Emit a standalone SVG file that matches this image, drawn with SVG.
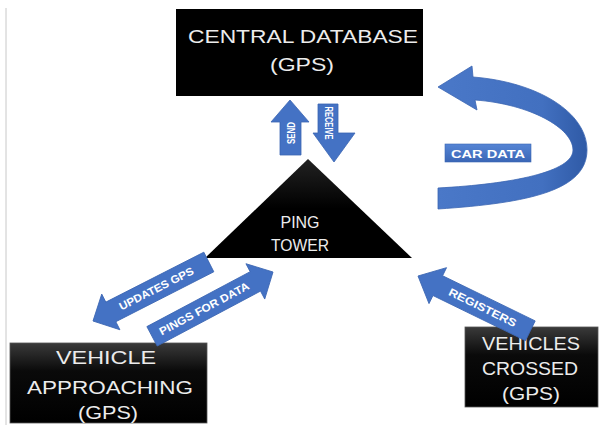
<svg xmlns="http://www.w3.org/2000/svg" width="603" height="425" viewBox="0 0 603 425">
<defs>
<linearGradient id="boxg" x1="0" y1="0" x2="0" y2="1">
<stop offset="0" stop-color="#3a3a3a"/><stop offset="0.35" stop-color="#0a0a0a"/><stop offset="1" stop-color="#000"/>
</linearGradient>
<linearGradient id="triG" x1="0" y1="0" x2="0" y2="1">
<stop offset="0" stop-color="#222"/><stop offset="0.5" stop-color="#000"/><stop offset="1" stop-color="#000"/>
</linearGradient>
<linearGradient id="curveG" x1="0" y1="0" x2="1" y2="0">
<stop offset="0" stop-color="#4a78c8"/><stop offset="0.7" stop-color="#4270c0"/><stop offset="1" stop-color="#2f5aa6"/>
</linearGradient>
<linearGradient id="labG" x1="0" y1="0" x2="0" y2="1">
<stop offset="0" stop-color="#5585d5"/><stop offset="1" stop-color="#3a66b6"/>
</linearGradient>
</defs>
<style>
.box{fill:#000}
.vbox{fill:url(#boxg);stroke:#555;stroke-width:0.8}
.nt{font-family:"Liberation Sans",Arial,sans-serif;fill:#ececec;text-anchor:middle}
.arr{fill:#4472c4;stroke:#3b66b3;stroke-width:0.8}
.at{font-family:"Liberation Sans",Arial,sans-serif;font-weight:bold;fill:#fff;text-anchor:middle}
</style>
<rect width="603" height="425" fill="#fff"/>
<line x1="6" y1="8" x2="6" y2="425" stroke="#c8c8c8" stroke-width="1"/>

<g id="central-database">
<rect class="box" x="176" y="9" width="247" height="87"/>
<text class="nt" x="303" y="43" font-size="19" textLength="230" lengthAdjust="spacingAndGlyphs">CENTRAL DATABASE</text>
<text class="nt" x="302" y="71" font-size="19" textLength="64" lengthAdjust="spacingAndGlyphs">(GPS)</text>
</g>

<g id="ping-tower">
<polygon points="308,159 412,258 205,258" fill="url(#triG)"/>
<text class="nt" x="300" y="228" font-size="16.5" textLength="39" lengthAdjust="spacingAndGlyphs">PING</text>
<text class="nt" x="300" y="251" font-size="16.5" textLength="58" lengthAdjust="spacingAndGlyphs">TOWER</text>
</g>

<g id="vehicle-approaching">
<rect class="vbox" x="10" y="343" width="197" height="80"/>
<text class="nt" x="106" y="364" font-size="19" textLength="100" lengthAdjust="spacingAndGlyphs">VEHICLE</text>
<text class="nt" x="110" y="394" font-size="19" textLength="166" lengthAdjust="spacingAndGlyphs">APPROACHING</text>
<text class="nt" x="108" y="419" font-size="19" textLength="60" lengthAdjust="spacingAndGlyphs">(GPS)</text>
</g>

<g id="vehicles-crossed">
<rect class="vbox" x="465" y="327" width="133" height="80"/>
<text class="nt" x="531" y="350" font-size="19" textLength="98" lengthAdjust="spacingAndGlyphs">VEHICLES</text>
<text class="nt" x="530" y="375" font-size="19" textLength="96" lengthAdjust="spacingAndGlyphs">CROSSED</text>
<text class="nt" x="531" y="400" font-size="19" textLength="58" lengthAdjust="spacingAndGlyphs">(GPS)</text>
</g>

<g id="connectors">
<g id="send">
<polygon class="arr" points="280,155 280,122 271,122 290,100 309,122 301,122 301,155"/>
<text class="at" transform="translate(294.5,133) rotate(-90)" font-size="10" textLength="22" lengthAdjust="spacingAndGlyphs">SEND</text>
</g>
<g id="receive">
<polygon class="arr" points="318,104 338,104 338,133 355,133 334,162 313,133 318,133"/>
<text class="at" transform="translate(324.5,123) rotate(90)" font-size="10" textLength="33" lengthAdjust="spacingAndGlyphs">RECEIVE</text>
</g>
<g id="car-data">
<path d="M438,87 L472,66 L473,77 C537,82 587,112 587,150 C587,190 530,203 438,209 L438,188 C512,184 573,172 573,150 C573,128 530,104 475,100 L477,110 Z" fill="url(#curveG)" stroke="#3b66b3" stroke-width="0.8"/>
<rect x="445" y="144" width="86" height="18" fill="url(#labG)" stroke="#3b66b3" stroke-width="0.6"/>
<text class="at" x="488" y="157.5" font-size="11.5" textLength="74" lengthAdjust="spacingAndGlyphs">CAR DATA</text>
</g>
<g id="updates-gps">
<polygon class="arr" transform="translate(93,321) rotate(153)" points="-130,-11 -20,-11 -20,-20 0,0 -20,20 -20,11 -130,11"/>
<text class="at" transform="translate(158,292) rotate(-27)" font-size="11" textLength="82" lengthAdjust="spacingAndGlyphs">UPDATES GPS</text>
</g>
<g id="pings-for-data">
<polygon class="arr" transform="translate(273,272) rotate(-28)" points="-137,-11 -20,-11 -20,-20 0,0 -20,20 -20,11 -137,11"/>
<text class="at" transform="translate(206,312) rotate(-28)" font-size="11" textLength="100" lengthAdjust="spacingAndGlyphs">PINGS FOR DATA</text>
</g>
<g id="registers">
<polygon class="arr" transform="translate(418,276) rotate(206)" points="-125,-11 -22,-11 -22,-20 0,0 -22,20 -22,11 -125,11"/>
<text class="at" transform="translate(481,311) rotate(26)" font-size="11" textLength="74" lengthAdjust="spacingAndGlyphs">REGISTERS</text>
</g>
</g>
</svg>
